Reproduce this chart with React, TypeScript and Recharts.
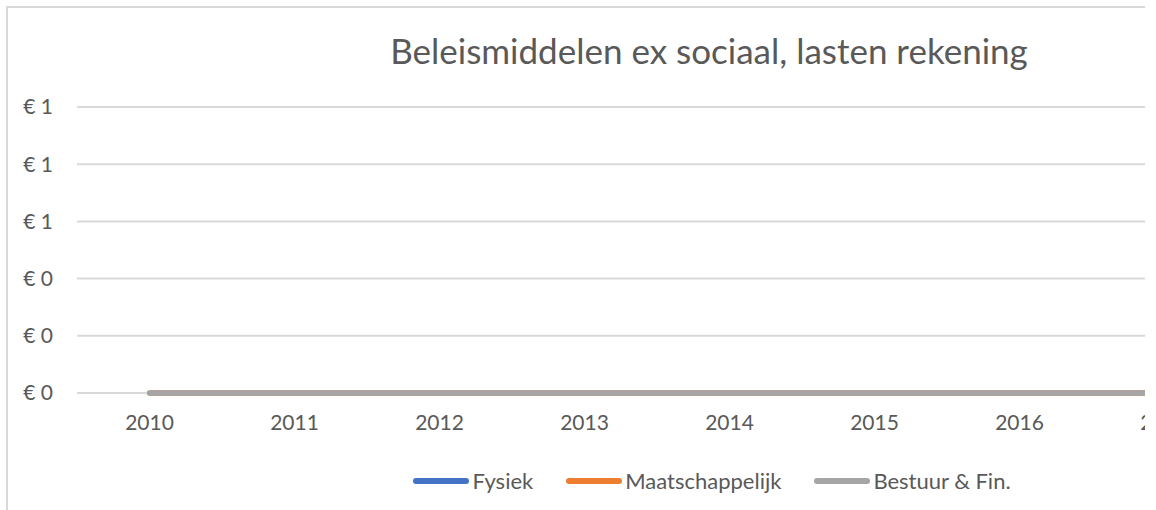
import { Legend, Line, LineChart, CartesianGrid, XAxis, YAxis } from "recharts";

const years = ["2010", "2011", "2012", "2013", "2014", "2015", "2016", "2017", "2018"];
const fysiek = [0, 0, 0, 0, 0, 0, 0, 0, 0];
const maatschappelijk = [0, 0, 0, 0, 0, 0, 0, 0, 0];
const bestuur = [0, 0, 0, 0, 0, 0, 0, 0, 0];
const yTicks = [0, 0.2, 0.4, 0.6, 0.8, 1];

const series = [
  { key: "fysiek", name: "Fysiek", color: "#4472c4" },
  { key: "maatschappelijk", name: "Maatschappelijk", color: "#ed7d31" },
  { key: "bestuur", name: "Bestuur & Fin.", color: "#a5a5a5" },
];

const data = years.map((year, i) => ({
  year,
  fysiek: fysiek[i],
  maatschappelijk: maatschappelijk[i],
  bestuur: bestuur[i],
}));

const font = "Lato, 'Open Sans', sans-serif";

function LegendRow() {
  return (
    <div
      style={{
        height: 93,
        paddingTop: 3,
        paddingLeft: 34,
        boxSizing: "border-box",
        display: "flex",
        justifyContent: "center",
        gap: 33,
        fontFamily: font,
        fontSize: 22,
        color: "#595959",
        lineHeight: "26px",
      }}
    >
      {series.map((s) => (
        <span key={s.key} style={{ display: "flex", alignItems: "center", gap: 3 }}>
          <span
            style={{
              width: 56,
              height: 6,
              borderRadius: 3,
              backgroundColor: s.color,
              display: "inline-block",
            }}
          />
          {s.name}
        </span>
      ))}
    </div>
  );
}

export default function App() {
  return (
    <div
      style={{
        position: "fixed",
        left: 0,
        top: 0,
        width: 1145,
        height: 510,
        overflow: "hidden",
        background: "#fff",
      }}
    >
      <div
        style={{
          position: "absolute",
          left: 6,
          top: 6,
          width: 1412,
          height: 520,
          border: "2px solid #d9d9d9",
          background: "#fff",
        }}
      >
        <div
          style={{
            position: "absolute",
            top: 21,
            left: 0,
            width: 1402,
            textAlign: "center",
            fontFamily: font,
            fontSize: 35,
            color: "#595959",
            whiteSpace: "nowrap",
          }}
        >
          Beleismiddelen ex sociaal, lasten rekening
        </div>
        <LineChart
          width={1412}
          height={518}
          data={data}
          margin={{ top: 99, right: 38, left: 0, bottom: 0 }}
        >
          <CartesianGrid stroke="#d9d9d9" strokeWidth={2} vertical={false} />
          <XAxis
            dataKey="year"
            axisLine={false}
            tickLine={false}
            tickSize={0}
            tickMargin={22}
            height={40}
            interval={0}
            padding={{ left: 72.5, right: 72.5 }}
            tick={{ fill: "#595959", fontSize: 21, fontFamily: font }}
          />
          <YAxis
            domain={[0, 1]}
            ticks={yTicks}
            width={69}
            axisLine={false}
            tickLine={false}
            tickSize={0}
            tickMargin={24}
            tickFormatter={(v: number) => `€ ${Math.round(v)}`}
            tick={{ fill: "#595959", fontSize: 21, fontFamily: font }}
          />
          <Legend verticalAlign="bottom" content={() => <LegendRow />} />
          {series.map((s) => (
            <Line
              key={s.key}
              dataKey={s.key}
              name={s.name}
              stroke={s.color}
              strokeWidth={5}
              strokeLinecap="round"
              dot={false}
              isAnimationActive={false}
            />
          ))}
        </LineChart>
      </div>
    </div>
  );
}
